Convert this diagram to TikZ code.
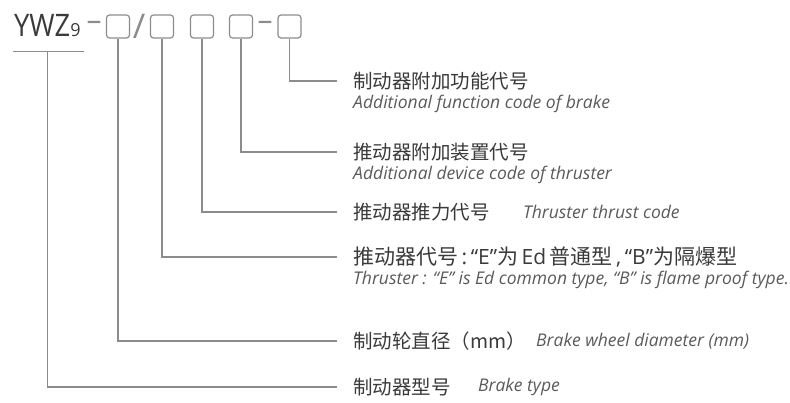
\documentclass[tikz,border=0pt]{standalone}
\usepackage{fontspec}
\setmainfont{Open Sans}
\newfontfamily\cjk{Noto Sans CJK SC}
\newfontfamily\latin{Open Sans}
\usetikzlibrary{positioning}
\definecolor{inkgray}{HTML}{3A3A3A}
\definecolor{engray}{HTML}{5A5A5A}
\definecolor{linegray}{HTML}{8C8C8C}

\begin{document}
\begin{tikzpicture}[
        x=1pt, y=1pt,
        box/.style={draw=linegray, line width=1.2pt, rounded corners=3pt, minimum width=23pt, minimum height=23pt, inner sep=0pt},
        sepmark/.style={text=linegray, inner sep=0pt, font=\fontsize{30}{30}\selectfont},
        cn/.style={anchor=west, inner sep=0pt, text=inkgray, font=\cjk\fontsize{19.5}{19.5}\selectfont},
        en/.style={inner sep=0pt, text=engray, font=\itshape\fontsize{17.5}{17.5}\selectfont},
        link/.style={draw=linegray, line width=1.1pt}
    ]
        \useasboundingbox (0,0) rectangle (790,402);

        % model code
        \node[anchor=base west, inner sep=0pt, text=inkgray, font=\fontsize{31}{31}\selectfont] (ywz) at (14,365) {\scalebox{0.88}[1]{YWZ}{\fontsize{18}{18}\selectfont 9}};
        \node[sepmark] (dashA) at (94,376) {–};
        \node[box] (wheel) at (118,375.5) {};
        \node[sepmark, font=\fontsize{34}{34}\selectfont] (slash) at (139,375.5) {/};
        \node[box] (thtype) at (162,375.5) {};
        \node[box] (thrust) at (202,375.5) {};
        \node[box] (device) at (241,375.5) {};
        \node[sepmark] (dashB) at (265,376) {–};
        \node[box] (func) at (289.5,375.5) {};

        % labels
        \node[cn] (funccn) at (353,321) {制动器附加功能代号};
        \node[en, below right=5pt and 0pt of funccn.south west] (funcen) {Additional function code of brake};

        \node[cn] (devicecn) at (353,250) {推动器附加装置代号};
        \node[en, below right=5pt and 0pt of devicecn.south west] (deviceen) {Additional device code of thruster};

        \node[cn] (thrustcn) at (353,190) {推动器推力代号};
        \node[en, right=33pt of thrustcn] (thrusten) {Thruster thrust code};

        \node[cn, font=\cjk\fontsize{21}{21}\selectfont] (thtypecn) at (353,145) {推动器代号{\latin\,:\,“E”}为{\latin\,Ed\,}普通型{\latin\,,\,“B”}为隔爆型};
        \node[en, below right=4pt and 0pt of thtypecn.south west] (thtypeen) {Thruster : “E” is Ed common type, “B” is flame proof type.};

        \node[cn] (wheelcn) at (353,61) {制动轮直径（mm）};
        \node[en, right=10pt of wheelcn] (wheelen) {Brake wheel diameter (mm)};

        \node[cn] (typecn) at (353,15) {制动器型号};
        \node[en, right=27pt of typecn] (typeen) {Brake type};

        % leader lines
        \draw[link] ([xshift=-1pt,yshift=-14pt]ywz.south west) -- ([xshift=3pt,yshift=-14pt]ywz.south east);
        \draw[link] ([yshift=-14pt]ywz.south) |- ([xshift=-16pt]typecn.west);
        \draw[link] (wheel.south) |- ([xshift=-16pt]wheelcn.west);
        \draw[link] (thtype.south) |- ([xshift=-16pt]thtypecn.west);
        \draw[link] (thrust.south) |- ([xshift=-16pt]thrustcn.west);
        \draw[link] (device.south) |- ([xshift=-16pt]devicecn.west);
        \draw[link] (func.south) |- ([xshift=-16pt]funccn.west);
    \end{tikzpicture}
\end{document}
